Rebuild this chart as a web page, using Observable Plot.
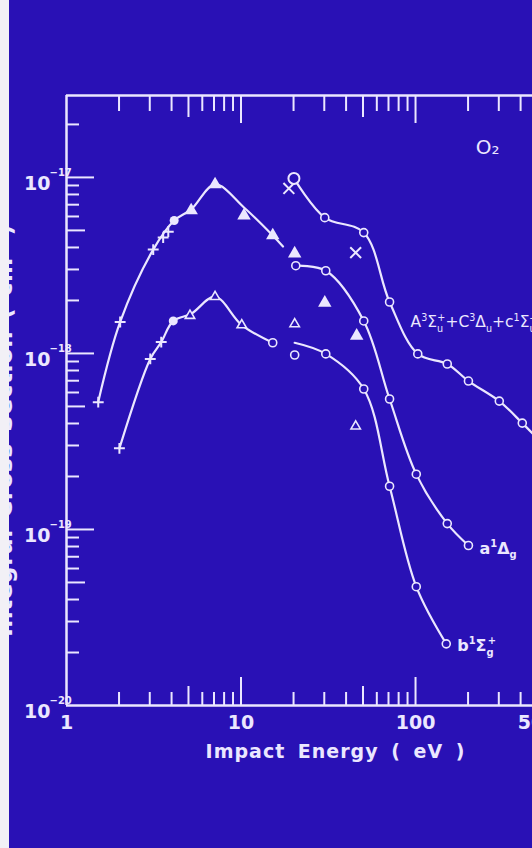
<!DOCTYPE html>
<html><head><meta charset="utf-8">
<script src="https://cdn.jsdelivr.net/npm/d3@7"></script>
<script src="https://cdn.jsdelivr.net/npm/@observablehq/plot@0.6"></script>
<style>
html,body{margin:0;padding:0;background:#2911b5;}
#wrap{position:relative;width:532px;height:848px;overflow:hidden;}
#edge{position:absolute;left:0;top:0;width:9px;height:848px;background:#f2f0f6;}
</style></head><body><div id="wrap"><div id="chart"></div><div id="edge"></div></div>
<script>
// ---------- data (impact energy in eV, cross section in cm^2) ----------
// A3Σu+ + C3Δu + c1Σu− : fitted curve, low- and high-energy branches
const accLowE  = [1.52, 2.03, 3.14, 4.14, 5.18, 7.1, 10.4, 15.2, 17.4];
const accLowS  = [5.3e-19, 1.51e-18, 3.89e-18, 5.69e-18, 6.58e-18, 9.12e-18, 6.75e-18, 4.68e-18, 4.05e-18];
const accHighE = [20.1, 30.2, 50.5, 71.0, 103, 152, 201, 302, 409, 553];
const accHighS = [9.87e-18, 5.91e-18, 4.86e-18, 1.96e-18, 9.94e-19, 8.71e-19, 6.97e-19, 5.36e-19, 4.02e-19, 2.97e-19];
// a1Δg : high-energy branch
const aHighE = [20.6, 30.6, 50.5, 71.0, 101, 152, 201];
const aHighS = [3.15e-18, 2.95e-18, 1.53e-18, 5.51e-19, 2.06e-19, 1.08e-19, 8.11e-20];
// b1Σg+ : low- and high-energy branches
const bLowE  = [2.01, 3.02, 3.49, 4.09, 5.18, 7.1, 10.1, 15.2];
const bLowS  = [2.89e-19, 9.31e-19, 1.16e-18, 1.53e-18, 1.68e-18, 2.10e-18, 1.45e-18, 1.15e-18];
const bHighE = [20.3, 30.6, 50.5, 71.0, 101, 150];
const bHighS = [1.15e-18, 9.94e-19, 6.28e-19, 1.76e-19, 4.73e-20, 2.24e-20];

// measured points, by symbol
const plusE = [1.52, 2.03, 3.14, 3.58, 3.83, 2.01, 3.02, 3.49];
const plusS = [5.29e-19, 1.51e-18, 3.89e-18, 4.55e-18, 4.92e-18, 2.89e-19, 9.31e-19, 1.16e-18];
const dotE = [4.14, 4.09];
const dotS = [5.69e-18, 1.53e-18];
const triFillE = [5.18, 7.1, 10.4, 15.2, 20.3, 30.2, 46.0];
const triFillS = [6.49e-18, 9.12e-18, 6.07e-18, 4.68e-18, 3.69e-18, 1.94e-18, 1.26e-18];
const triOpenE = [5.1, 7.1, 10.1, 20.3, 45.4];
const triOpenS = [1.64e-18, 2.10e-18, 1.45e-18, 1.47e-18, 3.86e-19];
const accCircE = [30.2, 50.5, 71.0, 103, 152, 201, 302, 409];
const accCircS = [5.91e-18, 4.86e-18, 1.96e-18, 9.94e-19, 8.71e-19, 6.97e-19, 5.36e-19, 4.02e-19];
const accBigE = [20.1];
const accBigS = [9.87e-18];
const aCircE = [20.6, 30.6, 50.5, 71.0, 101, 152, 201];
const aCircS = [3.15e-18, 2.95e-18, 1.53e-18, 5.51e-19, 2.06e-19, 1.08e-19, 8.11e-20];
const bCircE = [15.2, 20.3, 30.6, 50.5, 71.0, 101, 150];
const bCircS = [1.15e-18, 9.80e-19, 9.94e-19, 6.28e-19, 1.76e-19, 4.73e-20, 2.24e-20];
const timesE = [18.8, 45.4];
const timesS = [8.66e-18, 3.74e-18];

// axes
const xTickVals = [1, 10, 100, 500];
const xTickText = ["1", "10", "100", "500"];
const yTickVals = [1e-20, 1e-19, 1e-18, 1e-17];
const yExpText  = ["\u221220", "\u221219", "\u221218", "\u221217"];
const xMinorTicks = [2, 3, 4, 6, 7, 8, 9, 20, 30, 40, 60, 70, 80, 90, 200, 300, 400];
const xMidTicks = [5, 50];
const xMajorTicks = [10, 100];
const yMultipliers = [2, 3, 4, 6, 7, 8, 9];
const yDecades = [1e-20, 1e-19, 1e-18];
const yMinorTicks = yDecades.flatMap(d => yMultipliers.map(m => m * d)).concat([2e-17]);
const yMidTicks = [5e-20, 5e-19, 5e-18];
const yMajorTicks = [1e-19, 1e-18, 1e-17];
const xDomain = [1, 468];
const yDomain = [1e-20, 2.92e-17];

const xTitle = "Impact Energy ( eV )";
const yTitle = "Integral Cross Section ( cm\u00b2 )";
const gasLabel = "O\u2082";
const accLabel = "A^3Σ_u^++C^3Δ_u+c^1Σ_u^-";
const aLabel = "a^1Δ_g";
const bLabel = "b^1Σ_g^+";

// ---------- drawing ----------
const bg = "#2911b5", fg = "#ebe7ff";
const pts = (E, S) => E.map((e, i) => ({e, s: S[i]}));
const W = 532, H = 848, mL = 66, mR = 0, mT = 95, mB = 143;
const fw = W - mL - mR, fh = H - mT - mB;
const tMinor = 13, tMid = 19, tMajor = 28;
const tickStyle = {stroke: fg, strokeWidth: 2};
const line = (E, S) => Plot.line(pts(E, S), {x: "e", y: "s", curve: "catmull-rom", stroke: fg, strokeWidth: 2.2, clip: true});

const chart = Plot.plot({
  width: W, height: H,
  marginLeft: mL, marginRight: mR, marginTop: mT, marginBottom: mB,
  x: {type: "log", domain: xDomain, axis: null},
  y: {type: "log", domain: yDomain, axis: null},
  style: {background: bg, color: fg, fontFamily: "DejaVu Sans", overflow: "visible"},
  marks: [
    // frame
    Plot.ruleX([xDomain[0]], {stroke: fg, strokeWidth: 2.5}),
    Plot.ruleY([yDomain[0]], {stroke: fg, strokeWidth: 2.5}),
    Plot.ruleY([yDomain[1]], {stroke: fg, strokeWidth: 2.5}),
    // bottom ticks
    Plot.tickX(xMinorTicks, {x: d => d, insetTop: fh - tMinor, ...tickStyle}),
    Plot.tickX(xMidTicks, {x: d => d, insetTop: fh - tMid, ...tickStyle}),
    Plot.tickX(xMajorTicks, {x: d => d, insetTop: fh - tMajor, ...tickStyle}),
    // top ticks
    Plot.tickX(xMinorTicks, {x: d => d, insetBottom: fh - tMinor - 3, ...tickStyle}),
    Plot.tickX(xMidTicks, {x: d => d, insetBottom: fh - tMid - 3, ...tickStyle}),
    Plot.tickX(xMajorTicks, {x: d => d, insetBottom: fh - tMajor, ...tickStyle}),
    // left ticks
    Plot.tickY(yMinorTicks, {y: d => d, insetRight: fw - tMinor, ...tickStyle}),
    Plot.tickY(yMidTicks, {y: d => d, insetRight: fw - tMid, ...tickStyle}),
    Plot.tickY(yMajorTicks, {y: d => d, insetRight: fw - tMajor, ...tickStyle}),
    // tick labels
    Plot.text(xTickVals, {x: d => d, text: (d, i) => xTickText[i], frameAnchor: "bottom", textAnchor: "middle", dy: 23, fontSize: 19, fontWeight: "bold", fill: fg}),
    Plot.text(yTickVals, {y: d => d, text: () => "10", frameAnchor: "left", textAnchor: "end", dx: -16, dy: 6, fontSize: 19, fontWeight: "bold", fill: fg}),
    Plot.text(yTickVals, {y: d => d, text: (d, i) => yExpText[i], frameAnchor: "left", textAnchor: "start", dx: -17, dy: -5, fontSize: 10, fontWeight: "bold", fill: fg}),
    // axis titles
    Plot.text([xTitle], {text: d => d, frameAnchor: "bottom", textAnchor: "middle", dx: 36, dy: 52, fontSize: 19, fontWeight: "bold", fill: fg}),
    Plot.text([yTitle], {text: d => d, frameAnchor: "left", textAnchor: "middle", dx: -55, dy: 30, rotate: -90, lineAnchor: "bottom", fontSize: 23, fontWeight: "bold", fill: fg}),
    // curves
    line(accLowE, accLowS),
    line(accHighE, accHighS),
    line(aHighE, aHighS),
    line(bLowE, bLowS),
    line(bHighE, bHighS),
    // markers
    Plot.dot(pts(plusE, plusS), {x: "e", y: "s", symbol: "plus", r: 3.6, stroke: fg, strokeWidth: 2}),
    Plot.dot(pts(timesE, timesS), {x: "e", y: "s", symbol: "times", r: 5, stroke: fg, strokeWidth: 2}),
    Plot.dot(pts(dotE, dotS), {x: "e", y: "s", symbol: "circle", r: 4.5, fill: fg}),
    Plot.dot(pts(triFillE, triFillS), {x: "e", y: "s", symbol: "triangle", r: 5, fill: fg}),
    Plot.dot(pts(triOpenE, triOpenS), {x: "e", y: "s", symbol: "triangle2", r: 4.5, fill: bg, stroke: fg, strokeWidth: 1.6}),
    Plot.dot(pts(accBigE, accBigS), {x: "e", y: "s", r: 5.5, fill: bg, stroke: fg, strokeWidth: 2}),
    Plot.dot(pts(accCircE, accCircS), {x: "e", y: "s", r: 4, fill: bg, stroke: fg, strokeWidth: 1.6}),
    Plot.dot(pts(aCircE, aCircS), {x: "e", y: "s", r: 4, fill: bg, stroke: fg, strokeWidth: 1.6}),
    Plot.dot(pts(bCircE, bCircS), {x: "e", y: "s", r: 4, fill: bg, stroke: fg, strokeWidth: 1.6}),
    // labels
    Plot.text([{e: 259, s: 1.48e-17, t: gasLabel}], {x: "e", y: "s", text: "t", fontSize: 20, fill: fg}),
    Plot.text([{e: 93.6, s: 1.5e-18, t: accLabel}], {x: "e", y: "s", text: "t", textAnchor: "start", fontSize: 15.5, fill: fg}),
    Plot.text([{e: aHighE[aHighE.length - 1], s: aHighS[aHighS.length - 1], t: aLabel}], {x: "e", y: "s", text: "t", textAnchor: "start", dx: 11, dy: 3, fontSize: 16, fontWeight: "bold", fill: fg}),
    Plot.text([{e: bHighE[bHighE.length - 1], s: bHighS[bHighS.length - 1], t: bLabel}], {x: "e", y: "s", text: "t", textAnchor: "start", dx: 11, dy: 2, fontSize: 16, fontWeight: "bold", fill: fg})
  ]
});
document.getElementById("chart").appendChild(chart);

// super/subscripts inside labels (runs of normal text kept together)
function richify(el) {
  const s = el.textContent;
  if (!/[\^_]/.test(s)) return;
  const base = parseFloat(getComputedStyle(el).fontSize) || 14;
  const small = base * 0.62;
  const toks = [];
  for (let i = 0; i < s.length; i++) {
    const c = s[i];
    if ((c === "^" || c === "_") && i + 1 < s.length) { toks.push({t: c === "^" ? "sup" : "sub", c: s[i + 1]}); i++; }
    else if (toks.length && toks[toks.length - 1].t === "n") toks[toks.length - 1].c += c;
    else toks.push({t: "n", c});
  }
  el.textContent = "";
  let cur = 0, prev = "n";
  for (const k of toks) {
    const target = k.t === "sup" ? -base * 0.42 : k.t === "sub" ? base * 0.3 : 0;
    const ts = document.createElementNS("http://www.w3.org/2000/svg", "tspan");
    ts.textContent = k.c;
    if (target !== cur) ts.setAttribute("dy", (target - cur).toFixed(2));
    if (k.t !== "n" && prev !== "n" && prev !== k.t) ts.setAttribute("dx", (-small * 0.6).toFixed(2));
    if (k.t !== "n") ts.setAttribute("font-size", small.toFixed(2));
    el.appendChild(ts);
    cur = target; prev = k.t;
  }
}
d3.select(chart).selectAll("text").each(function () {
  const t = this.textContent;
  if (t === xTitle) { this.style.letterSpacing = "1px"; this.style.wordSpacing = "5px"; }
  if (t === yTitle) { this.style.letterSpacing = "0.6px"; this.style.wordSpacing = "3px"; }
  richify(this);
});
</script></body></html>
